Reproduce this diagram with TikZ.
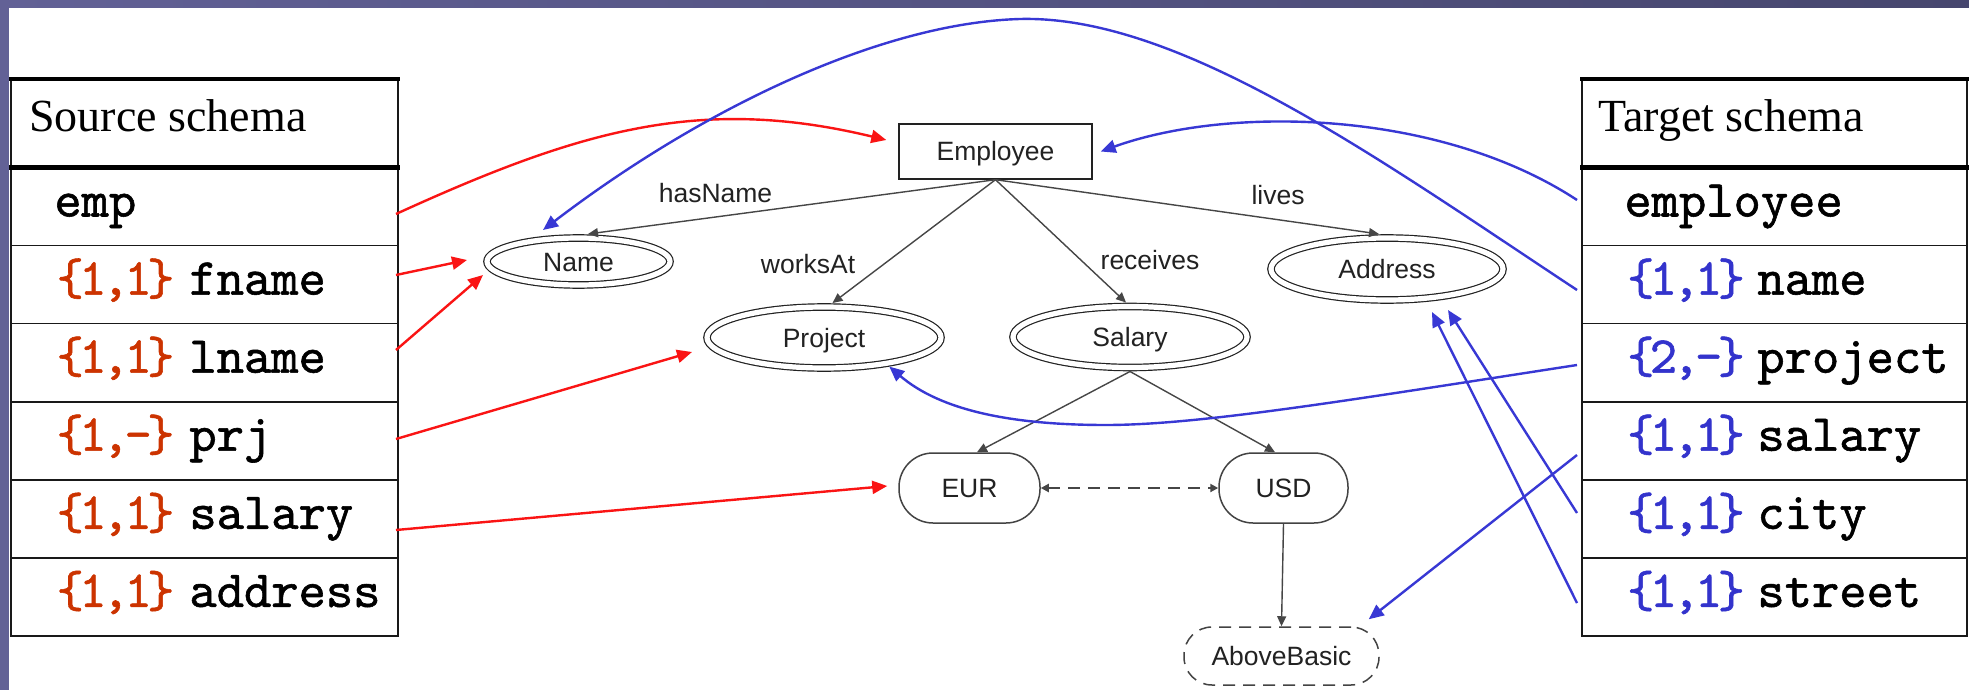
\documentclass[tikz,border=0pt]{standalone}
\usepackage{fontspec}
\setmainfont{Liberation Serif}
\newfontfamily\arialf{Liberation Sans}
\newfontfamily\monof{lmmono10-regular.otf}[FakeBold=1.1]
\newfontfamily\monotight{lmmono10-regular.otf}[FakeBold=1.1,LetterSpace=-9]
\usetikzlibrary{arrows.meta,calc,shapes.geometric}
\definecolor{bgpurple}{RGB}{98,97,150}
\definecolor{bgdark}{RGB}{70,70,110}
\definecolor{mapred}{RGB}{250,20,20}
\definecolor{mapblue}{RGB}{56,56,212}
\definecolor{cardred}{RGB}{204,51,0}
\definecolor{cardblue}{RGB}{51,51,204}
\definecolor{inkc}{RGB}{34,34,34}
\definecolor{edgegray}{RGB}{70,70,70}
\begin{document}
\begin{tikzpicture}[x=0.5pt,y=-0.5pt,
  tabthin/.style={draw=black!90, line width=0.8pt},
  tabthick/.style={draw=black, line width=2.4pt},
  hdr/.style={anchor=base west, inner sep=0pt, font=\fontsize{23}{27}\selectfont, text=black},
  mono/.style={anchor=base west, inner sep=0pt, font=\monof\fontsize{26}{30}\selectfont, text=black},
  card/.style={anchor=base, inner sep=0pt, font=\monotight\fontsize{26}{30}\selectfont},
  midfont/.style={font=\arialf\fontsize{13.25}{16}\selectfont, text=inkc, text height=9.5pt, text depth=0pt},
  entity/.style={midfont, rectangle, draw=inkc, line width=0.7pt, inner sep=0pt},
  attr/.style={midfont, ellipse, draw=inkc, double=white, double distance=2.6pt, line width=0.6pt, outer sep=2pt, inner sep=0pt},
  valbox/.style={midfont, rectangle, draw=inkc!85, line width=0.75pt, inner sep=0pt, rounded corners=17pt},
  lbl/.style={midfont, inner sep=0pt},
  er/.style={draw=edgegray, line width=0.7pt, -{Triangle[length=5pt,width=4.5pt]}},
  dashlink/.style={draw=edgegray, line width=1pt, dash pattern=on 6pt off 4pt, {Triangle[length=4pt,width=4pt]}-{Triangle[length=4pt,width=4pt]}},
  mapr/.style={draw=mapred, line width=1.2pt, -{Triangle[length=7.5pt,width=6.5pt]}},
  mapb/.style={draw=mapblue, line width=1.2pt, -{Triangle[length=7.5pt,width=6.5pt]}}
]
\useasboundingbox (0,0) rectangle (1969,690);
% background
\fill[bgpurple] (0,0) rectangle (1969,690);
\shade[left color=bgpurple, right color=bgdark] (0,0) rectangle (1969,8.5);
\fill[white] (8.5,8.5) rectangle (1969,690);

% source table
\draw[tabthin] (11,79) rectangle (398,636);
\foreach \k in {1,...,5} \draw[tabthin] (11,{167.5+78.08*\k}) -- (398,{167.5+78.08*\k});
\draw[tabthick] (9,79) -- (400,79);
\draw[tabthick] (9,167.5) -- (400,167.5);
% target table
\draw[tabthin] (1582,79) rectangle (1967,636);
\foreach \k in {1,...,5} \draw[tabthin] (1582,{167.5+78.08*\k}) -- (1967,{167.5+78.08*\k});
\draw[tabthick] (1580,79) -- (1969,79);
\draw[tabthick] (1580,167.5) -- (1969,167.5);

% source texts
\node[hdr] (shdr) at (29,132) {Source schema};
\node[mono] (s1) at (54,216.5) {emp};
\node[card,text=cardred] (s2c) at (115.5,294.6) {\{1,1\}};
\node[mono] (s2n) at (189,294.6) {fname};
\node[card,text=cardred] (s3c) at (115.5,372.7) {\{1,1\}};
\node[mono] (s3n) at (189,372.7) {lname};
\node[card,text=cardred] (s4c) at (115.5,450.7) {\{1,-\}};
\node[mono] (s4n) at (189,450.7) {prj};
\node[card,text=cardred] (s5c) at (115.5,528.8) {\{1,1\}};
\node[mono] (s5n) at (189,528.8) {salary};
\node[card,text=cardred] (s6c) at (115.5,606.9) {\{1,1\}};
\node[mono] (s6n) at (189,606.9) {address};

% target texts
\node[hdr] (thdr) at (1598,132) {Target schema};
\node[mono] (t1) at (1624,216.5) {employee};
\node[card,text=cardblue] (t2c) at (1686,294.6) {\{1,1\}};
\node[mono] (t2n) at (1757,294.6) {name};
\node[card,text=cardblue] (t3c) at (1686,372.7) {\{2,-\}};
\node[mono] (t3n) at (1757,372.7) {project};
\node[card,text=cardblue] (t4c) at (1686,450.7) {\{1,1\}};
\node[mono] (t4n) at (1757,450.7) {salary};
\node[card,text=cardblue] (t5c) at (1686,528.8) {\{1,1\}};
\node[mono] (t5n) at (1757,528.8) {city};
\node[card,text=cardblue] (t6c) at (1686,606.9) {\{1,1\}};
\node[mono] (t6n) at (1757,606.9) {street};

% ontology
\node[entity, minimum width=96.5pt, minimum height=27.5pt] (emp) at (995.5,151.5) {Employee};
\node[attr, minimum width=91.5pt, minimum height=23.5pt] (name) at (578.5,261.5) {Name};
\node[attr, minimum width=117pt, minimum height=30.5pt] (proj) at (824,337.5) {Project};
\node[attr, minimum width=117pt, minimum height=30.5pt] (sal) at (1130,337) {Salary};
\node[attr, minimum width=116pt, minimum height=31pt] (addr) at (1387,269) {Address};
\node[valbox, minimum width=70.5pt, minimum height=35pt] (eur) at (969.5,488) {EUR};
\node[valbox, minimum width=64.5pt, minimum height=35pt] (usd) at (1283.5,488) {USD};
\node[valbox, dash pattern=on 6pt off 4pt, rounded corners=14pt, minimum width=97.5pt, minimum height=29pt] (ab) at (1281.5,656) {AboveBasic};

\node[lbl] (lhas) at (715.5,193) {hasName};
\node[lbl] (lworks) at (808,264) {worksAt};
\node[lbl] (llives) at (1278,195) {lives};
\node[lbl] (lrec) at (1150,260) {receives};

\draw[er] (emp.south) -- ([xshift=4.75pt]name.north);
\draw[er] (emp.south) -- ([xshift=4.25pt]proj.north);
\draw[er] (emp.south) -- ([xshift=-2pt]sal.north);
\draw[er] (emp.south) -- ([xshift=-4pt]addr.north);
\draw[er] (sal.south) -- ([xshift=3.75pt]eur.north);
\draw[er] (sal.south) -- ([xshift=-4.25pt]usd.north);
\draw[er] (usd.south) -- (ab.north);
\draw[dashlink] (eur.east) -- (usd.west);

% source mappings
\coordinate (se) at (396,214);
\coordinate (sf) at (396,275);
\coordinate (sl) at (396,350);
\coordinate (sp) at (396,439);
\coordinate (ss) at (396,530);
\draw[mapr] (se) .. controls (580,130) and (700,95) .. ([shift={(-12,-11.5)}]emp.west);
\draw[mapr] (sf) -- ([shift={(-16,-1.5)}]name.west);
\draw[mapr] (sl) -- ([shift={(0,13.5)}]name.west);
\draw[mapr] (sp) -- ([shift={(-11,14.5)}]proj.west);
\draw[mapr] (ss) -- ([shift={(-11,-2)}]eur.west);

% target mappings
\coordinate (te) at (1577,200);
\coordinate (tn) at (1577,290);
\coordinate (tp) at (1577,365);
\coordinate (ts) at (1577,455);
\coordinate (tc) at (1577,513);
\coordinate (tst) at (1577,603);
\draw[mapb] (te) .. controls (1440,110) and (1230,105) .. ([xshift=4pt]emp.east);
\draw[mapb] (tn) .. controls (1380,160) and (1180,15) .. (1020,19) .. controls (880,23) and (700,110) .. ([shift={(-35.5,-4)}]name.north);
\draw[mapb] (tp) .. controls (1350,400) and (1200,425) .. (1106,425) .. controls (1010,425) and (940,410) .. (proj.-24);
\draw[mapb] (ts) -- ([shift={(-11,-7)}]ab.north east);
\draw[mapb] (tc) -- ([shift={(61,6)}]addr.south);
\draw[mapb] (tst) -- ([shift={(45,8)}]addr.south);
\end{tikzpicture}
\end{document}
